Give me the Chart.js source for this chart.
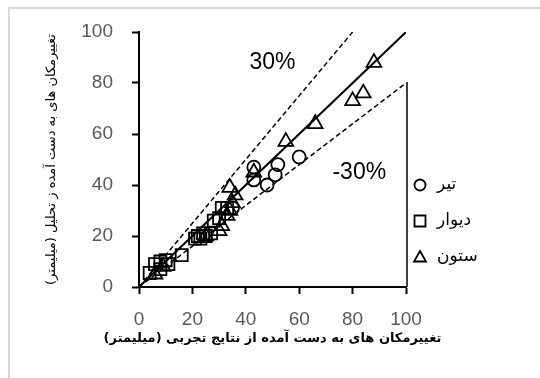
<!DOCTYPE html>
<html>
<head>
<meta charset="utf-8">
<script src="https://cdn.jsdelivr.net/npm/chart.js@4.4.1/dist/chart.umd.min.js"></script>
<style>
  html, body { margin: 0; padding: 0; background: #fff; }
  canvas { display: block; }
</style>
</head>
<body>
<canvas id="chart" width="540" height="378"></canvas>
<script>
// series names (legend)
const seriesNames = ['تیر', 'دیوار', 'ستون'];

const beamPoints = [[35, 31], [43, 47], [43, 42], [48, 40], [51, 44], [52, 48], [60, 51]];
const wallPoints = [[4, 5.5], [6, 9], [8, 7], [8, 10], [10, 10.5], [11, 9], [16, 12.5], [21, 19],
  [22, 20], [23, 19], [24, 21], [25, 20], [27, 21], [28, 26], [30, 27], [31, 31], [33, 31]];
const columnPoints = [[6, 5], [9, 8], [25, 20], [30, 22], [31, 24], [33, 28], [34, 30], [34, 39],
  [35, 33], [36, 36], [43, 45], [55, 57], [66, 64], [80, 73], [84, 76], [88, 88]];

// reference lines
const equalLine = [[0, 0], [100, 100]];
const upperLine = [[0, 0], [80, 100]];
const lowerLine = [[0, 0], [100, 80]];

const axisTicks = [0, 20, 40, 60, 80, 100];
const bandLabels = ['30%', '-30%'];

const xTitle = 'تغییرمکان های به دست آمده از نتایج تجربی (میلیمتر)';
const yTitle = 'تغییرمکان های به دست آمده ز تحلیل (میلیمتر)';

const toXY = arr => arr.map(p => ({ x: p[0], y: p[1] }));

function pointSet(label, points, style, radius) {
    return {
        label: label,
        data: toXY(points),
        pointStyle: style,
        pointRadius: radius,
        borderColor: '#000',
        backgroundColor: 'rgba(0,0,0,0)',
        borderWidth: 1.8
    };
}

function lineSet(points, dash, width) {
    return {
        data: toXY(points),
        showLine: true,
        borderColor: '#000',
        borderWidth: width,
        borderDash: dash,
        pointRadius: 0,
        fill: false
    };
}

const frameAndLabels = {
    id: 'frameAndLabels',
    beforeDraw(chart) {
        const ctx = chart.ctx;
        ctx.save();
        ctx.fillStyle = '#fff';
        ctx.fillRect(0, 0, chart.width, chart.height);
        // outer light frame
        ctx.strokeStyle = '#d9d9d9';
        ctx.lineWidth = 2;
        ctx.beginPath();
        ctx.moveTo(9, chart.height);
        ctx.lineTo(9, 8);
        ctx.lineTo(chart.width, 8);
        ctx.stroke();
        ctx.restore();
    },
    afterDraw(chart) {
        const ctx = chart.ctx;
        const xs = chart.scales.x, ys = chart.scales.y;
        const a = chart.chartArea;
        ctx.save();
        // band labels
        ctx.fillStyle = '#000';
        ctx.font = '23px "Liberation Sans"';
        ctx.textAlign = 'center';
        ctx.textBaseline = 'middle';
        ctx.fillText(bandLabels[0], xs.getPixelForValue(50), ys.getPixelForValue(88));
        ctx.fillText(bandLabels[1], xs.getPixelForValue(82.5), ys.getPixelForValue(45));

        // x axis title (wider than the plot, so drawn here to avoid squeezing)
        ctx.font = 'bold 13px "DejaVu Sans"';
        ctx.direction = 'rtl';
        ctx.fillText(xTitle, (a.left + a.right) / 2, 339);

        // partial right edge
        ctx.strokeStyle = '#000';
        ctx.lineWidth = 1.5;
        ctx.beginPath();
        ctx.moveTo(a.right + 1, 82);
        ctx.lineTo(a.right + 1, a.bottom);
        ctx.stroke();

        // legend
        const styles = ['circle', 'rect', 'triangle'];
        const rows = [185, 221, 257];
        const mx = 420;
        ctx.lineWidth = 1.8;
        ctx.font = '17px "DejaVu Sans"';
        ctx.textBaseline = 'middle';
        styles.forEach((s, i) => {
            const y = rows[i];
            ctx.beginPath();
            if (s === 'circle') {
                ctx.arc(mx, y, 5.5, 0, Math.PI * 2);
            } else if (s === 'rect') {
                ctx.rect(mx - 5.5, y - 5.5, 11, 11);
            } else {
                ctx.moveTo(mx, y - 6);
                ctx.lineTo(mx + 6, y + 4.5);
                ctx.lineTo(mx - 6, y + 4.5);
                ctx.closePath();
            }
            ctx.stroke();
            ctx.textAlign = 'left';
            ctx.fillText(seriesNames[i], mx + 17, y);
        });
        ctx.restore();
    }
};

const axisCommon = {
    type: 'linear',
    min: 0,
    max: 100,
    afterBuildTicks: s => { s.ticks = axisTicks.map(v => ({ value: v })); },
    grid: {
        display: true,
        drawOnChartArea: false,
        drawTicks: true,
        tickLength: 7,
        tickWidth: 2,
        color: '#000'
    },
    border: { display: true, color: '#000', width: 2 }
};

new Chart(document.getElementById('chart'), {
    type: 'scatter',
    data: {
        datasets: [
            pointSet(seriesNames[0], beamPoints, 'circle', 6.5),
            pointSet(seriesNames[1], wallPoints, 'rect', 8.5),
            pointSet(seriesNames[2], columnPoints, 'triangle', 8.5),
            lineSet(equalLine, [], 2),
            lineSet(upperLine, [5, 3], 1.5),
            lineSet(lowerLine, [5, 3], 1.5)
        ]
    },
    options: {
        responsive: false,
        animation: false,
        layout: { padding: { left: 40, top: 32, right: 134, bottom: 24 } },
        plugins: {
            legend: { display: false },
            tooltip: { enabled: false }
        },
        scales: {
            x: Object.assign({}, axisCommon, {
                afterFit: s => { s.height = 67; },
                ticks: {
                    padding: 14,
                    color: '#595959',
                    font: { family: 'Liberation Sans', size: 19 }
                },
                title: { display: false }
            }),
            y: Object.assign({}, axisCommon, {
                afterFit: s => { s.width = 99; },
                ticks: {
                    padding: 19,
                    color: '#595959',
                    font: { family: 'Liberation Sans', size: 19 }
                },
                title: {
                    display: true,
                    text: yTitle,
                    color: '#000',
                    font: { family: 'DejaVu Sans', size: 13 },
                    padding: { top: 4, bottom: 0 }
                }
            })
        }
    },
    plugins: [frameAndLabels]
});
</script>
</body>
</html>
